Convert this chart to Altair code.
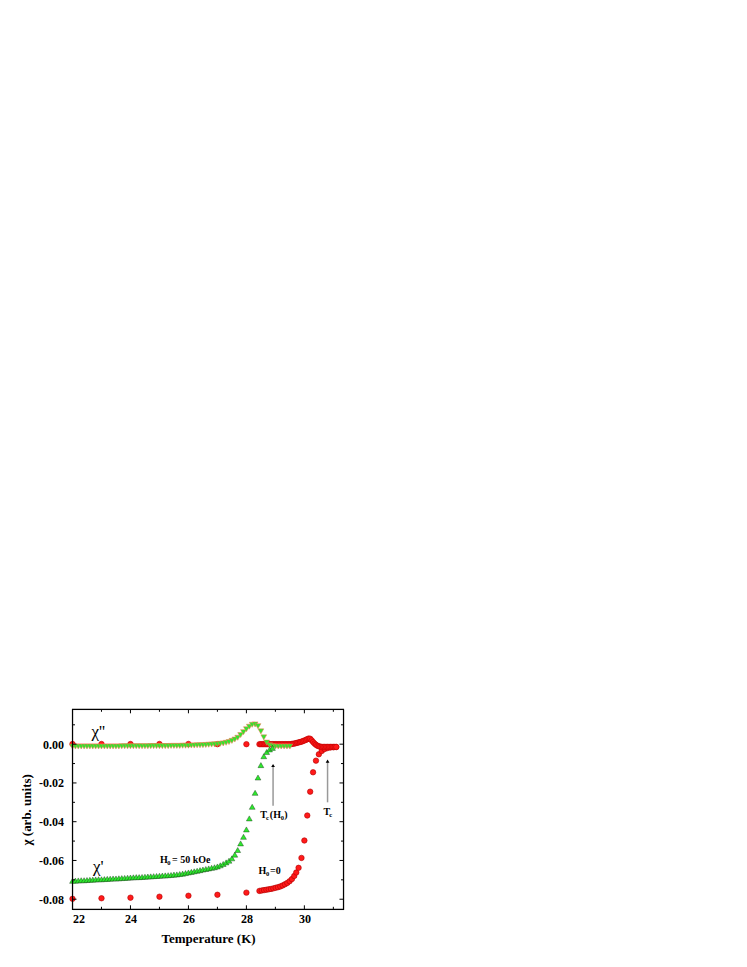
import altair as alt
import pandas as pd

# ---------------- data ----------------
# chi' red circles (H0 = 0)
red_re_T = [22, 23, 24, 25, 26, 27, 28,
            28.45, 28.53, 28.61, 28.69, 28.77, 28.85, 28.93, 29.01, 29.09, 29.17,
            29.25, 29.33, 29.41, 29.49, 29.57, 29.65, 29.72,
            29.8, 29.9, 30.0, 30.1, 30.2, 30.3, 30.4, 30.5, 30.6, 30.7, 30.8, 30.9, 31.0, 31.1]
red_re_v = [-0.0798, -0.0795, -0.0792, -0.0787, -0.0782, -0.0777, -0.0766,
            -0.0757, -0.0755, -0.0753, -0.0751, -0.0749, -0.0747, -0.0744, -0.0741, -0.0738, -0.0734,
            -0.0729, -0.0723, -0.0716, -0.0707, -0.0696, -0.0680, -0.0662,
            -0.0638, -0.0587, -0.0497, -0.0368, -0.0245, -0.0145, -0.0085, -0.0052, -0.0035,
            -0.0025, -0.0020, -0.0017, -0.0016, -0.0015]

# chi'' red circles (H0 = 0)
red_im_T = [22, 23, 24, 25, 26, 27, 28,
            28.45, 28.5, 28.55, 28.6, 28.65, 28.7, 28.75, 28.8, 28.85, 28.9, 28.95, 29.0,
            29.05, 29.1, 29.15, 29.2, 29.25, 29.3, 29.35, 29.4, 29.45, 29.5, 29.55, 29.6,
            29.65, 29.7, 29.75, 29.8, 29.85, 29.9, 29.95, 30.0, 30.05, 30.1, 30.15, 30.2,
            30.25, 30.3, 30.35, 30.4, 30.45, 30.5, 30.55, 30.6, 30.65, 30.7, 30.75, 30.8,
            30.85, 30.9, 30.95, 31.0, 31.05, 31.1]
red_im_v = [0.0001, 0.0001, 0.0001, 0.0001, 0.0001, 0.0000, 0.0000,
            0.0000, 0.0000, 0.0000, 0.0000, 0.0000, 0.0000, 0.0000, 0.0000, 0.0000, 0.0000, 0.0000, 0.0000,
            0.0000, 0.0000, 0.0000, 0.0000, 0.0000, 0.0000, 0.0000, 0.0000, 0.0000, 0.0000, 0.0001, 0.0002,
            0.0003, 0.0005, 0.0007, 0.0009, 0.0011, 0.0013, 0.0016, 0.0019, 0.0022, 0.0026, 0.0029, 0.0028,
            0.0020, 0.0011, 0.0003, -0.0003, -0.0008, -0.0011, -0.0013, -0.0014, -0.0014, -0.0014, -0.0014, -0.0014,
            -0.0014, -0.0014, -0.0014, -0.0014, -0.0014, -0.0014]

# chi' green up-triangles (H0 = 50 kOe)
grn_re_T = [round(22 + 0.1 * i, 1) for i in range(70)]
grn_re_v = [-0.0705, -0.0704, -0.0703, -0.0702, -0.0702, -0.0701, -0.0700, -0.0699, -0.0698, -0.0697,
            -0.0697, -0.0696, -0.0695, -0.0694, -0.0693, -0.0693, -0.0692, -0.0691, -0.0690, -0.0689,
            -0.0688, -0.0687, -0.0686, -0.0686, -0.0685, -0.0684, -0.0683, -0.0682, -0.0681, -0.0680,
            -0.0679, -0.0678, -0.0677, -0.0676, -0.0675, -0.0673, -0.0672, -0.0670, -0.0668, -0.0665,
            -0.0662, -0.0659, -0.0656, -0.0653, -0.0650, -0.0647, -0.0644, -0.0641, -0.0638, -0.0635,
            -0.0631, -0.0625, -0.0618, -0.0610, -0.0601, -0.0589, -0.0570, -0.0546, -0.0512, -0.0478,
            -0.0440, -0.0383, -0.0323, -0.0251, -0.0172, -0.0108, -0.0062, -0.0040, -0.0027, -0.0019]

# chi'' green down-triangles (H0 = 50 kOe)
grn_im_T = [round(22 + 0.1 * i, 1) for i in range(76)]
grn_im_v = [-0.0012, -0.0012, -0.0012, -0.0012, -0.0012, -0.0012, -0.0012, -0.0012, -0.0012, -0.0012,
            -0.0012, -0.0012, -0.0012, -0.0012, -0.0012, -0.0012, -0.0012, -0.0011, -0.0011, -0.0011,
            -0.0011, -0.0011, -0.0011, -0.0011, -0.0011, -0.0011, -0.0011, -0.0010, -0.0010, -0.0010,
            -0.0010, -0.0010, -0.0010, -0.0010, -0.0009, -0.0009, -0.0009, -0.0009, -0.0008, -0.0008,
            -0.0008, -0.0007, -0.0007, -0.0006, -0.0006, -0.0005, -0.0004, -0.0003, -0.0002, -0.0001,
            0.0000, 0.0002, 0.0004, 0.0007, 0.0011, 0.0017, 0.0024, 0.0033, 0.0047, 0.0062,
            0.0077, 0.0090, 0.0100, 0.0102, 0.0093, 0.0066, 0.0035, 0.0008, -0.0005, -0.0010,
            -0.0012, -0.0012, -0.0012, -0.0012, -0.0012, -0.0012]

x_major = [22, 24, 26, 28, 30]
x_minor = [23, 25, 27, 29, 31]
y_major = [-0.08, -0.06, -0.04, -0.02, 0.0]
y_minor = [-0.07, -0.05, -0.03, -0.01, 0.01]

# arrows: x, bottom, top
arrow_T = [28.92, 30.80]
arrow_bot = [-0.0318, -0.0300]
arrow_top = [-0.0110, -0.0088]

# ---------------- chart ----------------
W, H = 271, 200
FONT = "Liberation Serif"
xs = alt.Scale(domain=[22, 31.35], nice=False, zero=False)
ys = alt.Scale(domain=[-0.0852, 0.018], nice=False, zero=False)

df_red_re = pd.DataFrame({"T": red_re_T, "chi": red_re_v})
df_red_im = pd.DataFrame({"T": red_im_T, "chi": red_im_v})
df_grn_re = pd.DataFrame({"T": grn_re_T, "chi": grn_re_v})
df_grn_im = pd.DataFrame({"T": grn_im_T, "chi": grn_im_v})

xax = alt.Axis(values=x_major, ticks=False, domain=False, grid=False,
               labelFont=FONT, labelFontWeight="bold", labelFontSize=12, labelColor="black",
               labelPadding=4, title="Temperature (K)", titleFont=FONT, titleFontWeight="bold",
               titleFontSize=13, titleColor="black", titlePadding=8)
yax = alt.Axis(values=y_major, ticks=False, domain=False, grid=False,
               labelExpr="replace(format(datum.value, '.2f'), '\u2212', '-')",
               labelFont=FONT, labelFontWeight="bold", labelFontSize=12, labelColor="black",
               labelPadding=9, title="\u03c7 (arb. units)", titleFont=FONT, titleFontWeight="bold",
               titleFontSize=13, titleColor="black", titlePadding=5)


def X(field="T"):
    return alt.X(f"{field}:Q", scale=xs, axis=xax)


def Y(field="chi"):
    return alt.Y(f"{field}:Q", scale=ys, axis=yax)


def pts(df, shape, fill, stroke, size, sw=0.6):
    return alt.Chart(df).mark_point(shape=shape, filled=True, fill=fill, stroke=stroke,
                                    strokeWidth=sw, size=size, opacity=1).encode(x=X(), y=Y())


layers = []
layers.append(pts(df_red_re, "circle", "#ff1a1a", "#b00000", 30))
layers.append(pts(df_red_im, "circle", "#ff1a1a", "#c00000", 30))
layers.append(pts(df_grn_im, "triangle-down", "#2ee82e", "#ff7050", 34, sw=0.5))
layers.append(pts(df_grn_re, "triangle-up", "#2ee82e", "#103010", 34, sw=0.4))


# ticks (inward, all four sides)
def xticks(vals, length):
    d = pd.DataFrame({"T": vals})
    b = alt.Chart(d).mark_rule(color="black", strokeWidth=1).encode(
        x=X(), y=alt.value(H), y2=alt.value(H - length))
    t = alt.Chart(d).mark_rule(color="black", strokeWidth=1).encode(
        x=X(), y=alt.value(0), y2=alt.value(length))
    return [b, t]


def yticks(vals, length):
    d = pd.DataFrame({"chi": vals})
    l = alt.Chart(d).mark_rule(color="black", strokeWidth=1).encode(
        y=Y(), x=alt.value(0), x2=alt.value(length))
    r = alt.Chart(d).mark_rule(color="black", strokeWidth=1).encode(
        y=Y(), x=alt.value(W), x2=alt.value(W - length))
    return [l, r]


layers += xticks(x_major, 4) + xticks(x_minor, 2.5) + yticks(y_major, 4) + yticks(y_minor, 2.5)

# frame
layers.append(alt.Chart(pd.DataFrame({"T": [22]})).mark_rect(
    fill=None, fillOpacity=0, stroke="black", strokeWidth=1.2).encode(
    x=alt.value(0), x2=alt.value(W), y=alt.value(0), y2=alt.value(H)))

# arrows
df_arrow = pd.DataFrame({"T": arrow_T, "chi": arrow_bot, "top": arrow_top})
layers.append(alt.Chart(df_arrow).mark_rule(color="#999999", strokeWidth=1.5).encode(
    x=X(), y=Y(), y2="top:Q"))
layers.append(alt.Chart(df_arrow).transform_calculate(chi="datum.top").mark_point(
    shape="triangle-up", filled=True, color="black", size=14, opacity=1).encode(x=X(), y=Y()))

# text annotations: (T, chi, text, dx, dy, size, weight, align)
ann = [
    (22.89, 0.0063, "\u03c7''", 0, 0, 17, "normal", "center"),
    (22.89, -0.0632, "\u03c7'", 0, 0, 17, "normal", "center"),
    (25.02, -0.0598, "H", 0, 0, 10, "bold", "left"),
    (25.02, -0.0598, "0", 7.3, 3, 6.5, "bold", "left"),
    (25.02, -0.0598, "= 50 kOe", 12, 0, 10, "bold", "left"),
    (28.42, -0.0653, "H", 0, 0, 10, "bold", "left"),
    (28.42, -0.0653, "0", 7.3, 3, 6.5, "bold", "left"),
    (28.42, -0.0653, "=0", 11.5, 0, 10, "bold", "left"),
    (28.48, -0.0366, "T", 0, 0, 10, "bold", "left"),
    (28.48, -0.0366, "c", 5.8, 3, 6.5, "bold", "left"),
    (28.48, -0.0366, "(H", 9.5, 0, 10, "bold", "left"),
    (28.48, -0.0366, "0", 20.5, 3, 6.5, "bold", "left"),
    (28.48, -0.0366, ")", 24, 0, 10, "bold", "left"),
    (30.66, -0.0350, "T", 0, 0, 10, "bold", "left"),
    (30.66, -0.0350, "c", 5.8, 3, 6.5, "bold", "left"),
]
for (t, c, txt, dx, dy, sz, wt, al) in ann:
    layers.append(alt.Chart(pd.DataFrame({"T": [t], "chi": [c], "txt": [txt]})).mark_text(
        font=FONT, fontSize=sz, fontWeight=wt, align=al, baseline="middle", dx=dx, dy=dy,
        color="black").encode(x=X(), y=Y(), text="txt:N"))

chart = alt.layer(*layers).properties(
    width=W, height=H, autosize=alt.AutoSizeParams(type="none"),
    padding={"left": 64.5, "top": 701.3, "right": 20, "bottom": 55},
).configure_view(stroke=None).configure(background="white")

chart.save("out.html", embed_options={"renderer": "svg", "actions": False})
